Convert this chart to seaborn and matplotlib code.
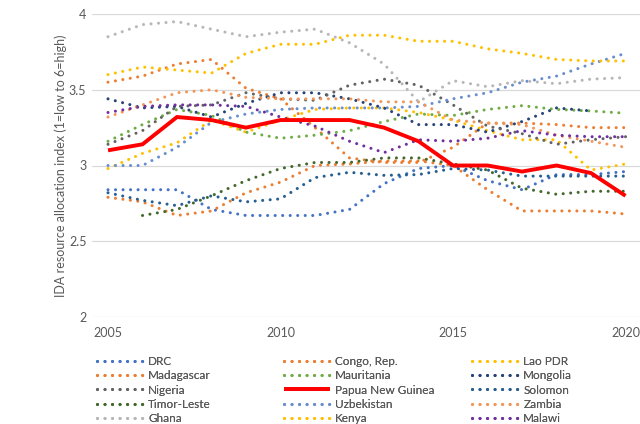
import numpy as np
import pandas as pd
import matplotlib
matplotlib.use("Agg")
import matplotlib.pyplot as plt
import seaborn as sns
from matplotlib.lines import Line2D
from matplotlib.ticker import FuncFormatter, MultipleLocator

nan = np.nan
years = list(range(2005, 2021))

drc = [2.84, 2.84, 2.84, 2.71, 2.67, 2.67, 2.67, 2.71, 2.88, 2.98, 3.00, 2.90, 2.84, 2.94, 2.94, 2.96]
congo = [2.79, 2.76, 2.67, 2.70, 2.82, 2.89, 3.00, 3.01, 3.03, 3.03, 3.00, 2.84, 2.70, 2.70, 2.70, 2.68]
lao = [2.98, 3.08, 3.15, 3.30, 3.22, 3.30, 3.37, 3.38, 3.38, 3.35, 3.30, 3.23, 3.17, 3.17, 2.97, 3.01]
madagascar = [3.55, 3.59, 3.67, 3.70, 3.51, 3.44, 3.25, 3.05, 3.02, 3.02, 3.12, 3.28, 3.28, 3.27, 3.25, 3.25]
mauritania = [3.16, 3.27, 3.37, 3.33, 3.22, 3.18, 3.20, 3.23, 3.29, 3.34, 3.33, 3.37, 3.395, 3.37, 3.36, 3.345]
mongolia = [3.44, 3.38, 3.39, 3.32, 3.41, 3.48, 3.48, 3.44, 3.38, 3.27, 3.27, 3.22, 3.29, 3.38, 3.36, nan]
nigeria = [3.14, 3.23, 3.39, 3.40, 3.48, 3.44, 3.43, 3.53, 3.57, 3.53, 3.40, 3.26, 3.21, 3.14, 3.17, 3.19]
png = [3.10, 3.14, 3.32, 3.30, 3.25, 3.30, 3.30, 3.30, 3.25, 3.16, 3.00, 3.00, 2.96, 3.00, 2.95, 2.80]
solomon = [2.82, 2.77, 2.735, 2.80, 2.76, 2.78, 2.92, 2.955, 2.935, 2.94, 2.98, 2.97, 2.93, 2.93, 2.93, 2.93]
timor_leste = [nan, 2.67, 2.71, 2.80, 2.90, 2.98, 3.02, 3.02, 3.05, 3.05, 3.01, 2.97, 2.85, 2.81, 2.83, 2.83]
uzbekistan = [3.00, 3.00, 3.12, 3.285, 3.34, 3.37, 3.38, 3.38, 3.38, 3.39, 3.44, 3.48, 3.55, 3.59, 3.67, 3.74]
zambia = [3.32, 3.40, 3.48, 3.50, 3.45, 3.44, 3.44, 3.44, 3.42, 3.42, 3.30, 3.28, 3.27, 3.20, 3.16, 3.12]
ghana = [3.85, 3.93, 3.95, 3.90, 3.85, 3.88, 3.90, 3.81, 3.67, 3.42, 3.56, 3.52, 3.56, 3.54, 3.57, 3.58]
kenya = [3.60, 3.65, 3.63, 3.61, 3.74, 3.80, 3.80, 3.86, 3.86, 3.82, 3.82, 3.77, 3.74, 3.70, 3.69, 3.69]
malawi = [3.35, 3.39, 3.40, 3.40, 3.39, 3.32, 3.26, 3.16, 3.085, 3.17, 3.16, 3.18, 3.23, 3.20, 3.19, 3.19]

countries = ["DRC", "Congo, Rep.", "Lao PDR", "Madagascar", "Mauritania", "Mongolia",
             "Nigeria", "Papua New Guinea", "Solomon", "Timor-Leste", "Uzbekistan",
             "Zambia", "Ghana", "Kenya", "Malawi"]
values = [drc, congo, lao, madagascar, mauritania, mongolia, nigeria, png, solomon,
          timor_leste, uzbekistan, zambia, ghana, kenya, malawi]
colors = ["#4472C4", "#ED7D31", "#FFC000", "#ED7D31", "#70AD47", "#264478",
          "#636363", "#FF0000", "#255E91", "#43682B", "#698ED0", "#F1975A",
          "#B7B7B7", "#FFC000", "#7030A0"]
highlight = "Papua New Guinea"

sns.set_theme(style="white")
plt.rcParams["font.family"] = ["Lato", "DejaVu Sans"]
text_color = "#595959"

fig = plt.figure(figsize=(6.4, 4.24), dpi=100)
ax = fig.add_axes([92 / 640, 1 - 317 / 424, 1 - 92 / 640, (317 - 14) / 424])

dotted = (0, (0.01, 2.45))
handles = []
for name, vals, color in zip(countries, values, colors):
    df = pd.DataFrame({"year": years, "value": vals}).dropna()
    if name == highlight:
        sns.lineplot(data=df, x="year", y="value", ax=ax, color=color, lw=2.8,
                     errorbar=None, solid_capstyle="butt", solid_joinstyle="miter",
                     zorder=5)
        handles.append(Line2D([], [], color=color, lw=2.8, solid_capstyle="butt"))
    else:
        sns.lineplot(data=df, x="year", y="value", ax=ax, color=color, lw=2.2,
                     errorbar=None, linestyle=dotted, dash_capstyle="round", zorder=3)
        handles.append(Line2D([], [], color=color, lw=2.2, linestyle=dotted,
                              dash_capstyle="round"))

ax.set_xlim(2004.536, 2020.42)
ax.set_ylim(2, 4)
ax.xaxis.set_major_locator(MultipleLocator(5))
ax.yaxis.set_major_locator(MultipleLocator(0.5))
ax.yaxis.set_major_formatter(FuncFormatter(lambda v, p: f"{v:g}"))
ax.grid(axis="y", color="#D9D9D9", lw=0.9)
ax.grid(axis="x", visible=False)
ax.set_axisbelow(True)
for s in ax.spines.values():
    s.set_visible(False)
ax.tick_params(axis="both", length=0, labelsize=9, colors=text_color)
ax.tick_params(axis="x", pad=7)
ax.tick_params(axis="y", pad=4)
ax.set_xlabel("")
ax.set_ylabel("IDA resource allocation index (1=low to 6=high)", fontsize=9,
              color=text_color)
ax.yaxis.set_label_coords((67 - 92) / 548, 0.5)

# Legend laid out as three equal-width columns, filled row by row
col_x = [97, 284, 472]
for c in range(3):
    idx = [r * 3 + c for r in range(5)]
    leg = fig.legend([handles[i] for i in idx], [countries[i] for i in idx],
                     loc="upper left", bbox_to_anchor=(col_x[c] / 640, 1 - 356 / 424),
                     frameon=False, fontsize=8.5, handlelength=3.9, handletextpad=0.45,
                     labelspacing=0.28, borderpad=0, borderaxespad=0, labelcolor=text_color)
    fig.add_artist(leg)

fig.savefig("out.png", dpi=100)
